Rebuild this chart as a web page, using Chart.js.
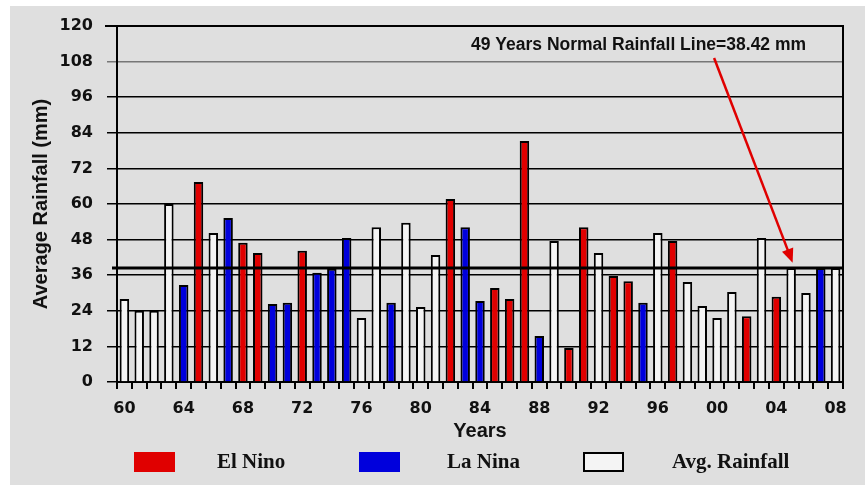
<!DOCTYPE html>
<html>
<head>
<meta charset="utf-8">
<script src="https://cdn.jsdelivr.net/npm/chart.js@4.4.1/dist/chart.umd.min.js"></script>
<style>
  html, body { margin: 0; padding: 0; background: #ffffff; }
  #wrap { width: 865px; height: 485px; }
</style>
</head>
<body>
<div id="wrap"><canvas id="rain-chart" width="865" height="485"></canvas></div>
<script>
const years = [1960, 1961, 1962, 1963, 1964, 1965, 1966, 1967, 1968, 1969,
    1970, 1971, 1972, 1973, 1974, 1975, 1976, 1977, 1978, 1979,
    1980, 1981, 1982, 1983, 1984, 1985, 1986, 1987, 1988, 1989,
    1990, 1991, 1992, 1993, 1994, 1995, 1996, 1997, 1998, 1999,
    2000, 2001, 2002, 2003, 2004, 2005, 2006, 2007, 2008];
const rainfall = [28, 24, 24, 60, 32.7, 67.4, 50.2, 55.3, 46.9, 43.5,
    26.3, 26.7, 44.2, 36.8, 38.2, 48.5, 21.6, 52.2, 26.7, 53.7,
    25.3, 42.8, 61.7, 52.2, 27.3, 31.7, 28, 81.2, 15.5, 47.5,
    11.5, 52.2, 43.5, 35.7, 34, 26.7, 50.2, 47.5, 33.7, 25.6,
    21.6, 30.3, 22.2, 48.5, 28.7, 38.4, 30, 38.4, 38.4];
// E = El Nino, L = La Nina, N = normal year
const phase = ['N', 'N', 'N', 'N', 'L', 'E', 'N', 'L', 'E', 'E',
    'L', 'L', 'E', 'L', 'L', 'L', 'N', 'N', 'L', 'N',
    'N', 'N', 'E', 'L', 'L', 'E', 'E', 'E', 'L', 'N',
    'E', 'E', 'N', 'E', 'E', 'L', 'N', 'E', 'N', 'N',
    'N', 'N', 'E', 'N', 'E', 'N', 'N', 'L', 'N'];
const yTicks = [0, 12, 24, 36, 48, 60, 72, 84, 96, 108, 120];
const normalRain = 38.42;
const legendNames = ['El Nino', 'La Nina', 'Avg. Rainfall'];

const RED = '#e00000';
const BLUE = '#0000dc';
const WHITE = '#f4f4f4';

function getColor(p) {
    if (p === 'E') return RED;
    if (p === 'L') return BLUE;
    return WHITE;
}

const extras = {
    id: 'extras',
    beforeDraw(chart) {
        const ctx = chart.ctx;
        ctx.save();
        ctx.fillStyle = '#dfdfdf';
        ctx.fillRect(10, 6, chart.width - 10, chart.height - 6);
        ctx.restore();
    },
    afterDraw(chart) {
        const ctx = chart.ctx;
        const area = chart.chartArea;
        const x = chart.scales.x;
        const y = chart.scales.y;
        ctx.save();
        // top and right frame
        ctx.strokeStyle = '#000';
        ctx.lineWidth = 2;
        ctx.beginPath();
        ctx.moveTo(area.left - 12, area.top);
        ctx.lineTo(area.right, area.top);
        ctx.lineTo(area.right, area.bottom);
        ctx.stroke();

        // normal rainfall line
        const ny = y.getPixelForValue(normalRain);
        ctx.lineWidth = 3;
        ctx.beginPath();
        ctx.moveTo(area.left - 5, ny);
        ctx.lineTo(area.right, ny);
        ctx.stroke();

        // note + arrow
        ctx.fillStyle = '#111';
        ctx.font = 'bold 17.5px "Liberation Sans", Arial, sans-serif';
        ctx.textAlign = 'center';
        ctx.textBaseline = 'middle';
        ctx.fillText('49 Years Normal Rainfall Line=' + normalRain + ' mm', x.getPixelForValue(34.7), y.getPixelForValue(113.5));

        const x1 = x.getPixelForValue(39.8), y1 = y.getPixelForValue(109.2);
        const x2 = x.getPixelForValue(45.1), y2 = y.getPixelForValue(40.2);
        const ang = Math.atan2(y2 - y1, x2 - x1);
        ctx.strokeStyle = '#e00000';
        ctx.fillStyle = '#e00000';
        ctx.lineWidth = 2.5;
        ctx.beginPath();
        ctx.moveTo(x1, y1);
        ctx.lineTo(x2 - 10 * Math.cos(ang), y2 - 10 * Math.sin(ang));
        ctx.stroke();
        ctx.beginPath();
        ctx.moveTo(x2, y2);
        ctx.lineTo(x2 - 14 * Math.cos(ang) + 6 * Math.sin(ang), y2 - 14 * Math.sin(ang) - 6 * Math.cos(ang));
        ctx.lineTo(x2 - 14 * Math.cos(ang) - 6 * Math.sin(ang), y2 - 14 * Math.sin(ang) + 6 * Math.cos(ang));
        ctx.closePath();
        ctx.fill();

        // legend
        const boxX = [134, 359, 583];
        const textX = [217, 447, 672];
        const boxCol = [RED, BLUE, WHITE];
        ctx.font = 'bold 21px "Liberation Serif", "Times New Roman", serif';
        ctx.textAlign = 'left';
        for (let i = 0; i < 3; i++) {
            ctx.fillStyle = boxCol[i];
            ctx.fillRect(boxX[i], 452, 41, 20);
            if (i === 2) {
                ctx.strokeStyle = '#000';
                ctx.lineWidth = 2;
                ctx.strokeRect(boxX[i] + 1, 453, 39, 18);
            }
            ctx.fillStyle = '#111';
            ctx.fillText(legendNames[i], textX[i], 463);
        }
        ctx.restore();
    }
};

new Chart(document.getElementById('rain-chart').getContext('2d'), {
    type: 'bar',
    data: {
        labels: years,
        datasets: [{
            label: 'Average Rainfall',
            data: rainfall,
            backgroundColor: phase.map(p => getColor(p)),
            borderColor: '#000',
            borderWidth: 2,
            borderSkipped: 'bottom',
            barPercentage: 0.64,
            categoryPercentage: 1
        }]
    },
    options: {
        responsive: false,
        animation: false,
        layout: { padding: { left: 0, right: 22, top: 26, bottom: 44 } },
        plugins: { legend: { display: false }, tooltip: { enabled: false } },
        scales: {
            x: {
                offset: true,
                afterFit: s => { s.height = 59; },
                grid: { offset: true, drawOnChartArea: false, drawTicks: true, tickLength: 7, color: '#000', lineWidth: 2 },
                border: { display: true, color: '#000', width: 2 },
                ticks: {
                    autoSkip: false, maxRotation: 0, padding: 10, color: '#111',
                    font: { family: '"DejaVu Sans", sans-serif', weight: 'bold', size: 16 },
                    callback: (v, i) => i % 4 === 0 ? String(years[i]).slice(2) : ''
                },
                title: {
                    display: true, text: 'Years', color: '#111',
                    font: { family: '"Liberation Sans", Arial, sans-serif', weight: 'bold', size: 20, lineHeight: 1 },
                    padding: { top: 0, bottom: 0 }
                }
            },
            y: {
                min: 0, max: 120,
                afterFit: s => { s.width = 117; },
                afterBuildTicks: s => { s.ticks = yTicks.map(v => ({ value: v })); },
                grid: {
                    color: c => c.tick && c.tick.value === 108 ? '#777' : '#000',
                    lineWidth: 1.5, drawTicks: true, tickLength: 10
                },
                border: { display: true, color: '#000', width: 2 },
                ticks: {
                    padding: 14, color: '#111',
                    font: { family: '"DejaVu Sans", sans-serif', weight: 'bold', size: 16 }
                },
                title: {
                    display: true, text: 'Average Rainfall (mm)', color: '#111',
                    font: { family: '"Liberation Sans", Arial, sans-serif', weight: 'bold', size: 20, lineHeight: 1.2 },
                    padding: { top: 29, bottom: 0 }
                }
            }
        }
    },
    plugins: [extras]
});
</script>
</body>
</html>
